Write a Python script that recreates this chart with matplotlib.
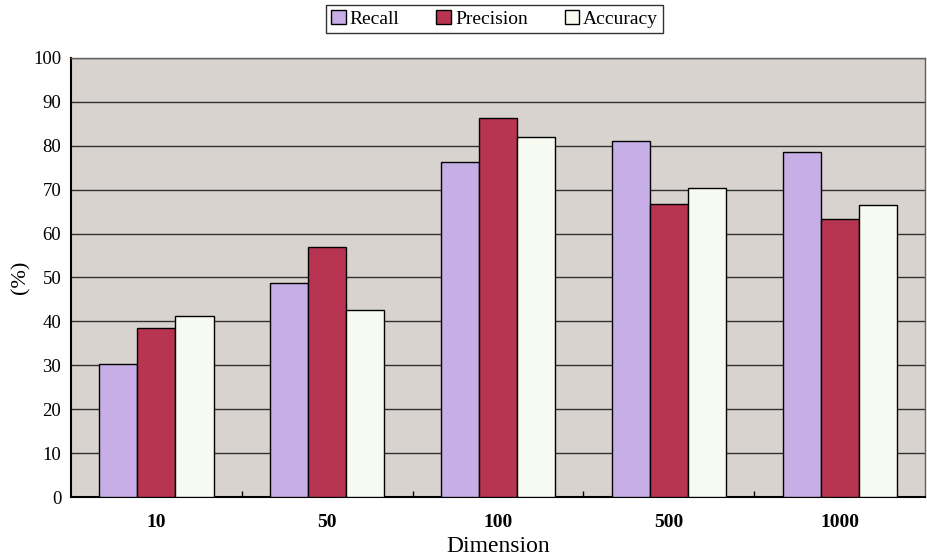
import numpy as np
import matplotlib.pyplot as plt

# values
dimensions = ['10', '50', '100', '500', '1000']
recall = [30.2, 48.7, 76.2, 81.1, 78.5]
precision = [38.6, 56.9, 86.3, 66.8, 63.4]
accuracy = [41.2, 42.7, 82.0, 70.3, 66.6]

series = [('Recall', recall, '#c8aee6'),
          ('Precision', precision, '#b83551'),
          ('Accuracy', accuracy, '#f7faf0')]

plt.rcParams['font.family'] = ['Liberation Serif', 'DejaVu Serif']

fig = plt.figure(figsize=(9.27, 5.6), dpi=100)
ax = fig.add_axes([0.0766, 0.1125, 0.9214, 0.784])
ax.set_facecolor('#d9d3d0')

x = np.arange(len(dimensions))
width = 0.223
for i, (name, vals, color) in enumerate(series):
    ax.bar(x + (i - 1) * width, vals, width, color=color, edgecolor='black',
           linewidth=1.0, label=name, zorder=3)

ax.set_xlim(-0.5, len(dimensions) - 0.5)
ax.set_ylim(0, 100)
ax.set_yticks(np.arange(0, 101, 10))
ax.yaxis.grid(True, color='#303030', linewidth=1.0, zorder=1)
ax.set_axisbelow(True)

# category separators as small inward ticks on the x axis
ax.set_xticks(x)
ax.set_xticklabels(dimensions, fontweight='bold', fontsize=14)
ax.set_xticks(x[:-1] + 0.5, minor=True)
ax.tick_params(axis='x', which='major', length=0, pad=12)
ax.tick_params(axis='x', which='minor', direction='in', length=4, width=1)
ax.tick_params(axis='y', length=0, labelsize=13.5, pad=7)

for side in ['left', 'bottom']:
    ax.spines[side].set_linewidth(1.5)
for side in ['top', 'right']:
    ax.spines[side].set_color('#606060')
    ax.spines[side].set_linewidth(1.0)

ax.set_xlabel('Dimension', fontsize=17, labelpad=4)
ax.set_ylabel('(%)', fontsize=16, labelpad=2)

leg = ax.legend(loc='upper center', bbox_to_anchor=(0.496, 1.12), ncol=3,
                frameon=True, fancybox=False, edgecolor='black', fontsize=14,
                handlelength=0.75, handleheight=0.75, handletextpad=0.2,
                columnspacing=1.9, borderpad=0.25, borderaxespad=0)
leg.get_frame().set_linewidth(1.0)

fig.savefig('out.png', dpi=100)
